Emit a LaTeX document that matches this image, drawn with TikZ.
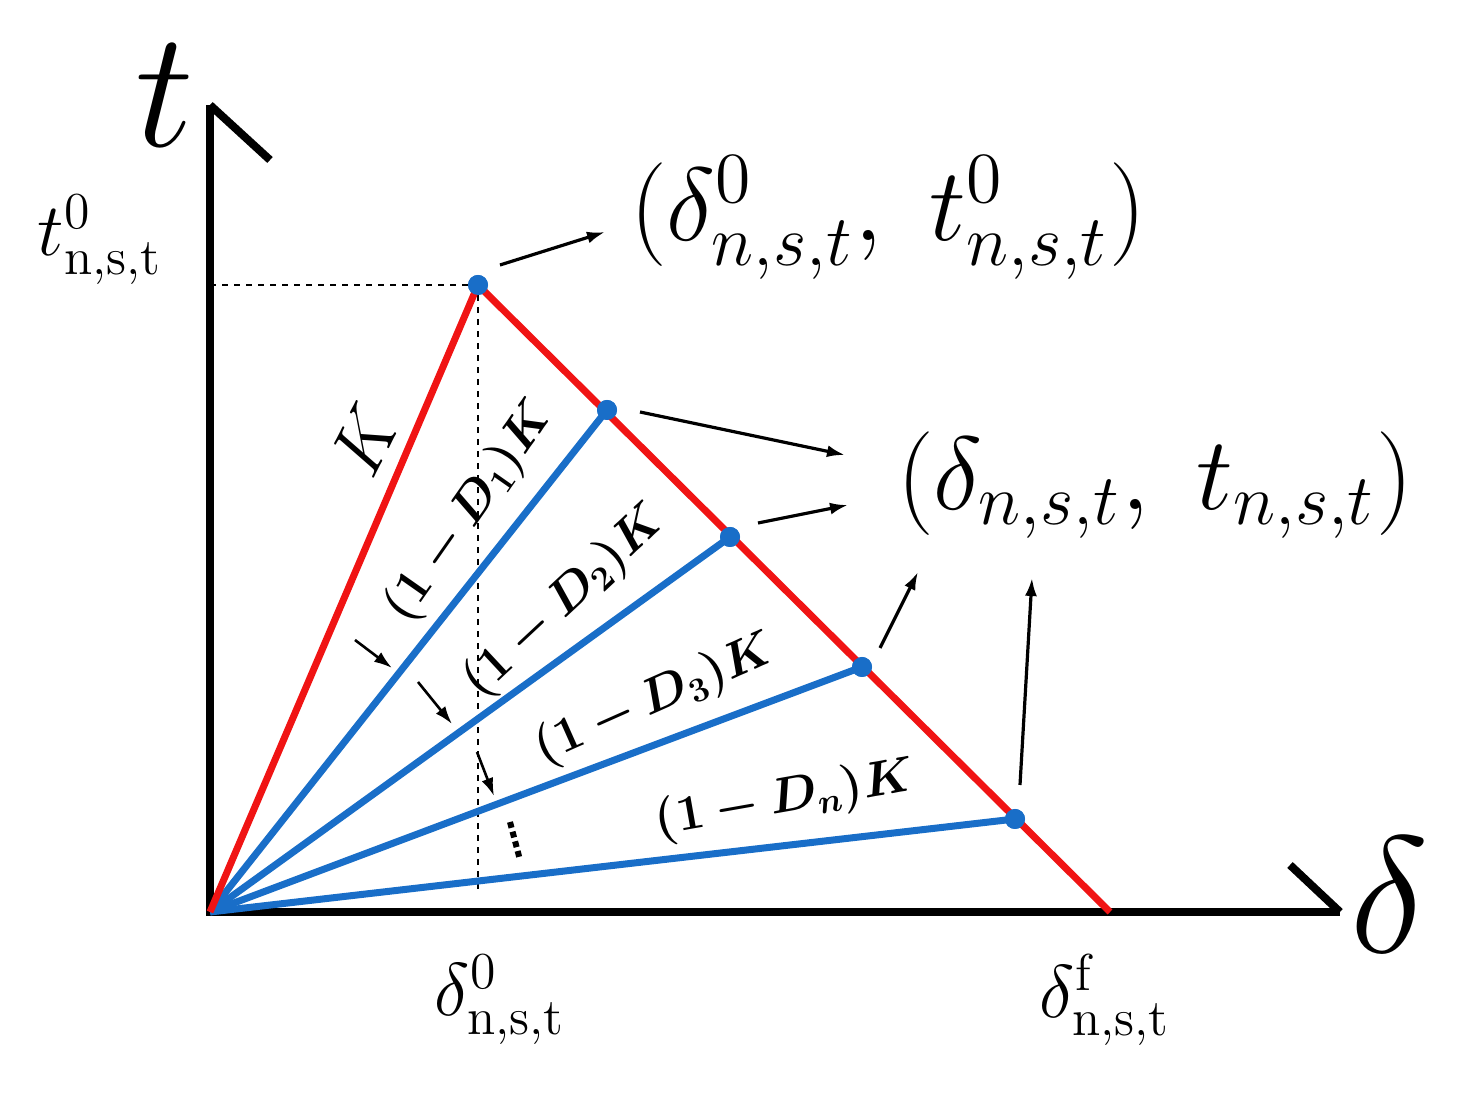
\documentclass[tikz,border=0pt]{standalone}
\usepackage{amsmath,bm}
\usetikzlibrary{arrows.meta}
\begin{document}
\begin{tikzpicture}[x=0.5pt,y=-0.5pt,
 ax/.style={line width=4pt,black},
 red/.style={line width=3.5pt,draw={rgb,255:red,240;green,20;blue,20}},
 blu/.style={line width=3.5pt,draw={rgb,255:red,25;green,110;blue,200}},
 dot/.style={circle,fill={rgb,255:red,25;green,110;blue,200},inner sep=0pt,minimum size=10pt},
 arr/.style={line width=1.6pt,-{Latex[length=9pt,width=6pt]}},
 huge/.style={font=\fontsize{20}{20}\selectfont,scale=4},
 big/.style={font=\fontsize{20}{20}\selectfont,scale=2.5},
 mid/.style={font=\fontsize{20}{20}\selectfont,scale=1.8},
 lab/.style={font=\fontsize{20}{20}\selectfont,scale=1.2}]
\useasboundingbox (0,0) rectangle (1480,1095);
\coordinate (O) at (210,912);
\coordinate (Y) at (210,105);
\coordinate (X) at (1340,912);
\coordinate (F) at (1110,912);
\coordinate (D0) at (478,895);
\coordinate (T0) at (210,285);
\draw[ax] (Y) -- (O) -- (X);
\draw[ax] (Y) -- (270,160);
\draw[ax] (X) -- (1290,865);
\node[dot] (P0) at (478,285) {};
\node[dot] (P1) at (607,410) {};
\node[dot] (P2) at (730,537) {};
\node[dot] (P3) at (862,667) {};
\node[dot] (Pn) at (1015,819) {};
\draw[dashed,line width=0.8pt] (T0) -- (P0) -- (D0);
\foreach \p in {P1,P2,P3,Pn} \draw[blu] (O) -- (\p.center);
\draw[red] (O) -- (P0.center) -- (F);
\foreach \p in {P0,P1,P2,P3,Pn} \node[dot] at (\p) {};
\node[huge] (tl) at (165,95) {$t$};
\node[huge] (dl) at (1390,895) {$\delta$};
\node[mid] (t0) at (100,240) {$t^{0}_{\mathrm{n,s,t}}$};
\node[mid] (d0) at (500,1000) {$\delta^{0}_{\mathrm{n,s,t}}$};
\node[mid] (df) at (1105,1000) {$\delta^{\mathrm{f}}_{\mathrm{n,s,t}}$};
\node[big] (L0) at (888,218) {$(\delta^{0}_{n,s,t},\ t^{0}_{n,s,t})$};
\node[big] (L1) at (1155,485) {$(\delta_{n,s,t},\ t_{n,s,t})$};
\draw[arr] (500,265) -- (605,232);
\draw[arr] (640,412) -- (845,455);
\draw[arr] (758,523) -- (848,505);
\draw[arr] (880,648) -- (918,572);
\draw[arr] (1020,785) -- (1032,578);
\node[mid,rotate=63] (kK) at (365,440) {$K$};
\node[lab,rotate=55] (k1) at (470,512) {$\bm{(1-D_1)K}$};
\node[lab,rotate=43] (k2) at (565,602) {$\bm{(1-D_2)K}$};
\node[lab,rotate=24] (k3) at (655,700) {$\bm{(1-D_3)K}$};
\node[lab,rotate=10] (kn) at (785,800) {$\bm{(1-D_n)K}$};
\draw[arr,line width=1.3pt] (355,640) -- (392,668);
\draw[arr,line width=1.3pt] (418,682) -- (452,724);
\draw[arr,line width=1.3pt] (477,752) -- (494,796);
\draw[line width=3pt,dotted] (510,822) -- (520,860);
\end{tikzpicture}
\end{document}
